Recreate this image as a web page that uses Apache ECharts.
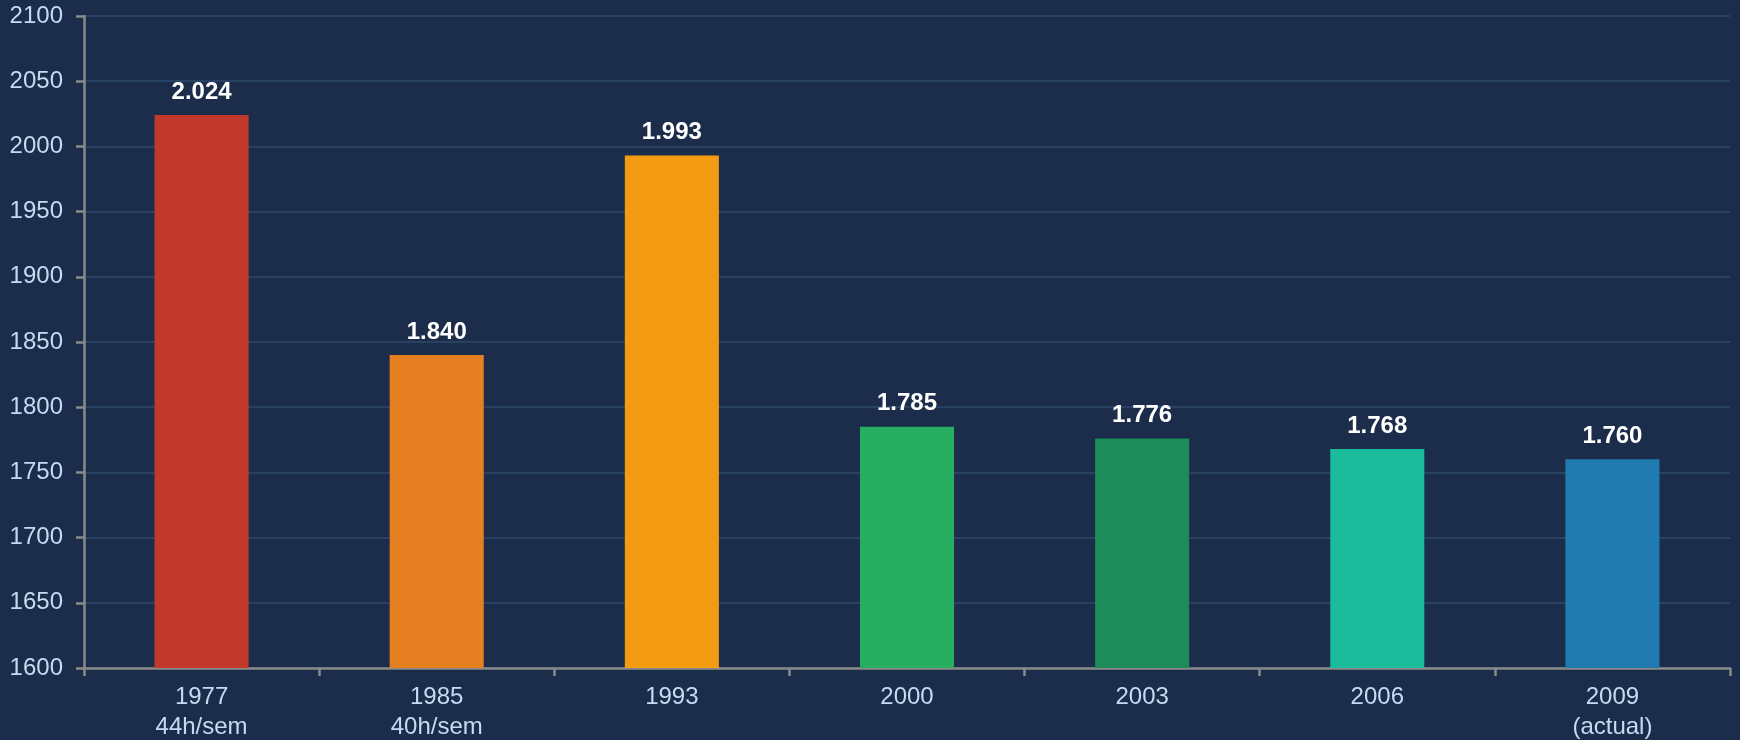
<!DOCTYPE html>
<html><head><meta charset="utf-8">
<script src="https://cdn.jsdelivr.net/npm/echarts@6/dist/echarts.min.js"></script>
<style>html,body{margin:0;padding:0;background:#1b2d4a;}#c{width:1740px;height:740px;}</style>
</head><body><div id="c"></div>
<script>
const categories = ['1977\n44h/sem', '1985\n40h/sem', '1993', '2000', '2003', '2006', '2009\n(actual)'];
const hours = [2024, 1840, 1993, 1785, 1776, 1768, 1760];
const barColors = ['#c0392b', '#e67e22', '#f39c12', '#27ae60', '#1d8b5a', '#1abc9c', '#1f7bb0'];
const yMin = 1600, yMax = 2100, yStep = 50;

const chart = echarts.init(document.getElementById('c'));
chart.setOption({
  backgroundColor: '#1b2d4a',
  textStyle: { fontFamily: 'Liberation Sans, Arial, sans-serif' },
  grid: { left: 84, right: 10, top: 16, bottom: 72, containLabel: false, outerBoundsMode: 'none' },
  xAxis: {
    type: 'category', data: categories,
    axisLine: { lineStyle: { color: '#8a8a8a', width: 2.5 } },
    axisTick: { show: true, length: 8, lineStyle: { color: '#8a8a8a', width: 2.5 } },
    axisLabel: { color: '#c8daf2', fontSize: 24, lineHeight: 30, margin: 14 }
  },
  yAxis: {
    type: 'value', min: yMin, max: yMax, interval: yStep,
    axisLine: { show: true, lineStyle: { color: '#8a8a8a', width: 2.5 } },
    axisTick: { show: true, length: 8, lineStyle: { color: '#8a8a8a', width: 2.5 } },
    axisLabel: { color: '#c8daf2', fontSize: 24, margin: 21, formatter: v => String(v) },
    splitLine: { lineStyle: { color: '#2f4a6e', width: 1.5 } }
  },
  series: [{
    type: 'bar', barWidth: '40%',
    data: hours.map((v, i) => ({ value: v, itemStyle: { color: barColors[i] } })),
    label: {
      show: true, position: 'top', distance: 11, color: '#ffffff', fontSize: 24, fontWeight: 'bold',
      formatter: p => String(p.value).replace(/\B(?=(\d{3})+(?!\d))/g, '.')
    }
  }]
});
</script></body></html>
